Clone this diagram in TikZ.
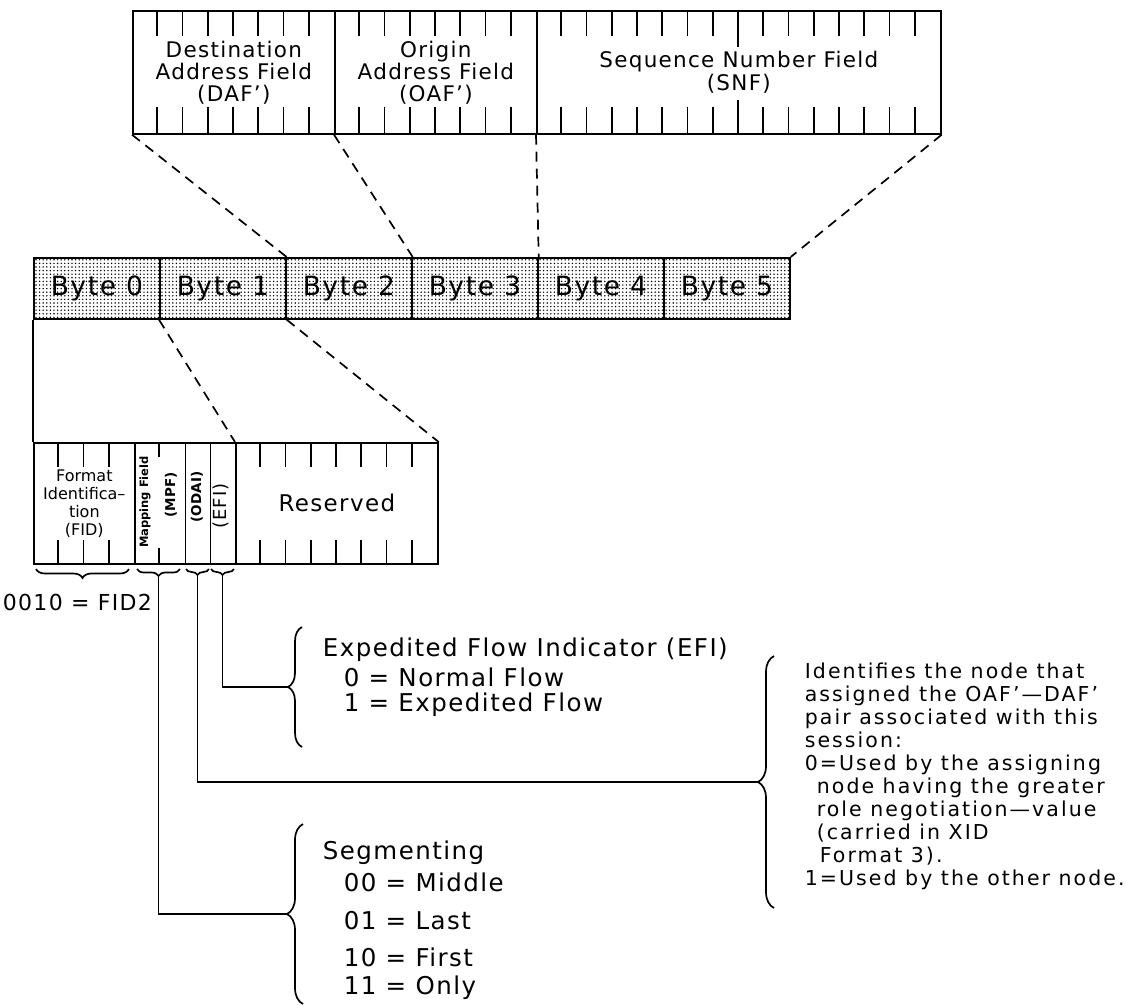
\documentclass[tikz,border=0pt]{standalone}
\usepackage{fontspec}
\setmainfont[LetterSpace=6]{DejaVu Sans}
\usetikzlibrary{patterns.meta,decorations.pathreplacing,positioning}
\newcommand{\fsz}[2]{\fontsize{#1}{#2}\selectfont}

\begin{document}
\begin{tikzpicture}[x=1pt,y=-1pt,line width=1.7pt,
    field/.style={draw,inner sep=0pt,anchor=north west,align=center},
    bytebox/.style={field,pattern={Dots[distance=3.6pt,radius=0.8pt]},minimum width=126pt,minimum height=61pt,font=\fsz{26.5}{28}},
    link/.style={dash pattern=on 10pt off 7pt},
    curly/.style={decorate,decoration={brace,amplitude=#1,aspect=0.5}},
    txt/.style={anchor=base west,inner sep=0pt,font=\fsz{24.5}{26}}]
  \useasboundingbox (0,0) rectangle (1126,1005);

  % header fields, 32 bits
  \node[field,minimum width=202pt,minimum height=123pt,font=\fsz{21.5}{22}] (daf) at (132,10) {Destination\\Address Field\\(DAF')};
  \node[field,minimum width=202pt,minimum height=123pt,font=\fsz{21.5}{22}] (oaf) at (334,10) {Origin\\Address Field\\(OAF')};
  \node[field,minimum width=404pt,minimum height=123pt,font=\fsz{21.5}{23}] (snf) at (536,10) {Sequence Number Field\\(SNF)};
  \foreach \s in {0,8,16,24}
    \foreach \j in {1,...,7}
      \draw (132+25.25*\s+25.25*\j,10) -- ++(0,26) (132+25.25*\s+25.25*\j,133) -- ++(0,-26);
  \draw (132+25.25*24,10) -- ++(0,37) (132+25.25*24,133) -- ++(0,-33);

  % six bytes
  \foreach \i in {0,...,5}
    \node[bytebox] (b\i) at (33+126*\i,257) {Byte \i};
  \draw[link] (daf.south west) -- (b1.north east);
  \draw[link] (oaf.south west) -- (b2.north east);
  \draw[link] (snf.south west) -- (b3.north east);
  \draw[link] (snf.south east) -- (b5.north east);

  % bytes 0 and 1 in bits
  \node[field,minimum width=101pt,minimum height=121pt,font=\fsz{16}{18}\addfontfeature{LetterSpace=0}] (fid) at (33,442) {Format\\Identifica--\\tion\\(FID)};
  \node[field,minimum width=50.5pt,minimum height=121pt] (mpf) at (134,442) {};
  \node[field,minimum width=25.25pt,minimum height=121pt] (odai) at (184.5,442) {};
  \node[field,minimum width=25.25pt,minimum height=121pt] (efi) at (209.75,442) {};
  \node[field,minimum width=202pt,minimum height=121pt,font=\fsz{23}{24}] (rsv) at (235,442) {Reserved};
  \node[rotate=90,font=\fsz{11.5}{12}\bfseries\addfontfeature{LetterSpace=0}] (mpfname) at (145,502) {Mapping Field};
  \node[rotate=90,font=\fsz{13.5}{14}\bfseries\addfontfeature{LetterSpace=0}] (mpfabbr) at (171,495) {(MPF)};
  \node[rotate=90,font=\fsz{13.5}{14}\bfseries\addfontfeature{LetterSpace=0}] (odailbl) at (197,497) {(ODAI)};
  \node[rotate=90,font=\fsz{18}{19}] (efilbl) at (221,506) {(EFI)};
  \foreach \k in {1,2,3,9,10,11,12,13,14,15}
    \draw (33+25.25*\k,442) -- ++(0,25) (33+25.25*\k,563) -- ++(0,-23);
  \draw (33+25.25*5,442) -- ++(0,15) (33+25.25*5,563) -- ++(0,-15);
  \draw (b0.south west) -- (fid.north west);
  \draw[link] (b1.south west) -- (rsv.north west);
  \draw[link] (b1.south east) -- (rsv.north east);

  % braces under the bits
  \draw[curly=9pt] (129,569) -- (36,569);
  \draw[curly=7pt] (180,569) -- (137,569);
  \draw[curly=6pt] (209,569) -- (186,569);
  \draw[curly=6pt] (234,569) -- (211,569);
  \coordinate (mpftip) at (158.5,576);
  \coordinate (odaitip) at (197.5,575);
  \coordinate (efitip) at (222.5,575);
  \node[txt,font=\fsz{22}{26}] (fidval) at (2,610) {0010 = FID2};

  % explanations
  \coordinate (flowtip) at (288,687);
  \draw[curly=14pt] (302,747) -- (302,627);
  \coordinate (identtip) at (758,782);
  \draw[curly=16pt] (774,908) -- (774,656);
  \coordinate (segtip) at (287,914);
  \draw[curly=16pt] (303,1004) -- (303,824);
  \draw (efitip) |- (flowtip);
  \draw (odaitip) |- (identtip);
  \draw (mpftip) |- (segtip);

  \node[txt] (efititle) at (322,656) {Expedited Flow Indicator (EFI)};
  \node[txt] (efi0) at (343,686) {0 = Normal Flow};
  \node[txt] (efi1) at (343,711) {1 = Expedited Flow};

  \node[anchor=north west,inner sep=0pt,align=left,font=\fsz{20.5}{23}\addfontfeature{LetterSpace=10}] (identtext) at (804,662)
    {Identifies the node that\\assigned the OAF'---DAF'\\pair associated with this\\session:\\0=Used by the assigning\\\hspace*{12pt}node having the greater\\\hspace*{12pt}role negotiation---value\\\hspace*{12pt}(carried in XID\\\hspace*{15pt}Format 3).\\1=Used by the other node.};

  \node[txt] (segtitle) at (322,859) {Segmenting};
  \node[txt] (seg0) at (343,891) {00 = Middle};
  \node[txt] (seg1) at (343,929) {01 = Last};
  \node[txt] (seg2) at (343,966) {10 = First};
  \node[txt] (seg3) at (343,994) {11 = Only};
\end{tikzpicture}
\end{document}
